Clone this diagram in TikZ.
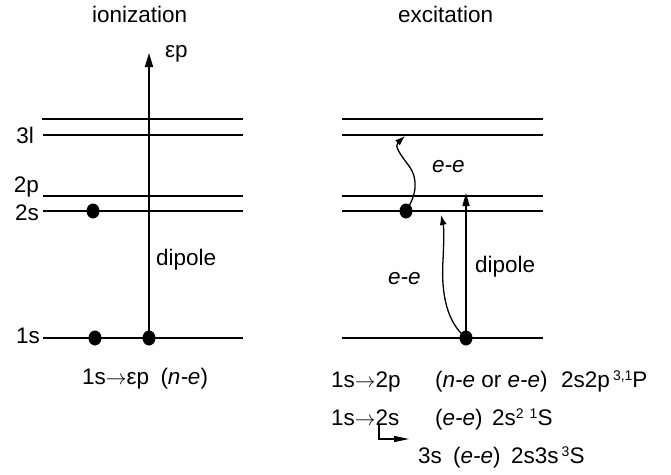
\documentclass[tikz,border=0pt]{standalone}
\usepackage{fontspec}
\setmainfont{Liberation Sans}
\usetikzlibrary{shapes.geometric, arrows.meta, positioning, calc}

\newcommand{\mult}[1]{\raisebox{7pt}{\fontsize{14}{16}\selectfont #1}}

\begin{document}
\begin{tikzpicture}[
    x=1pt, y=-1pt,
    orbit/.style={
        draw,
        line width=1.4pt
    },
    toporbit/.style={
        draw,
        line width=2pt
    },
    electron/.style={
        ellipse,
        fill=black,
        inner sep=0pt,
        minimum width=13pt,
        minimum height=15pt
    },
    txt/.style={
        inner sep=0pt,
        font=\fontsize{22.5}{27}\selectfont
    },
    dipole/.style={
        draw,
        line width=1.8pt,
        -{Triangle[length=14pt,width=8pt]}
    },
    ee/.style={
        draw,
        line width=1.3pt,
        -{Latex[length=10pt,width=7pt]}
    },
    elbow/.style={
        draw,
        line width=1.1pt,
        -{Triangle[length=15pt,width=6pt]}
    }
]
    \useasboundingbox (0,0) rectangle (671,474);

    % --- Titles ---
    \node [txt, anchor=base west] (ion) at (92,22) {ionization};
    \node [txt, anchor=base west] (exc) at (398,22) {excitation};

    % --- Ionization levels ---
    \draw [toporbit] (42,119) -- (243,119);
    \draw [orbit] (43,135) -- (243,135);
    \draw [orbit] (43,196) -- (243,196);
    \draw [orbit] (43,211) -- (243,211);
    \draw [orbit] (43,338) -- (243,338);

    \node [txt, anchor=base east] (l3l) at (34,143) {3l};
    \node [txt, anchor=base east] (l2p) at (39,192) {2p};
    \node [txt, anchor=base east] (l2s) at (39,220) {2s};
    \node [txt, anchor=base east] (l1s) at (40,343) {1s};

    % --- Excitation levels ---
    \draw [toporbit] (342,119) -- (543,119);
    \draw [orbit] (342,135) -- (543,135);
    \draw [orbit] (342,196) -- (543,196);
    \draw [orbit] (342,211) -- (543,211);
    \draw [toporbit] (406,211) -- (543,211);
    \draw [orbit] (342,338) -- (543,338);

    % --- Electrons ---
    \node [electron] (ion2s) at (93,211) {};
    \node [electron] (ion1sa) at (95,338) {};
    \node [electron] (ion1sb) at (149,338) {};
    \node [electron] (exc2s) at (406,211) {};
    \node [electron] (exc1s) at (466,338) {};

    % --- Ionization transition ---
    \coordinate (cont) at (149,53);
    \draw [dipole] (ion1sb.center) -- (cont);
    \node [txt, anchor=base west] (eps) at (165,57) {εp};
    \node [txt, anchor=base west] (dipL) at (156,265) {dipole};

    % --- Excitation transitions ---
    \coordinate (top2p) at (466,193);
    \coordinate (top3l) at (405,136);
    \coordinate (top2s) at (441,215);
    \draw [dipole, line width=1.5pt, -{Triangle[length=13pt,width=7pt]}] (exc1s.center) -- (top2p);
    \draw [ee] (exc2s.center) .. controls (416,196) and (419,180) .. (409,166)
        .. controls (400,154) and (394,146) .. (top3l);
    \draw [ee] (exc1s.center) .. controls (447,322) and (441,295) .. (443,260)
        .. controls (444,240) and (444,228) .. (top2s);
    \node [txt, anchor=base west] (eeup) at (432,172) {\textit{e-e}};
    \node [txt, anchor=base west] (eelow) at (388,284) {\textit{e-e}};
    \node [txt, anchor=base west] (dipR) at (475,272) {dipole};

    % --- Captions ---
    \node [txt, anchor=base west] (capion) at (82,384) {1s$\rightarrow$εp\hspace{0.5em}(\textit{n-e})};

    \node [txt, anchor=base west] (c2p) at (331,387) {1s$\rightarrow$2p};
    \node [txt, anchor=base west] (c2pmech) at (435,387) {(\textit{n-e} or \textit{e-e})};
    \node [txt, anchor=base west] (c2pterm) at (561,387) {2s2p\hspace{3pt}\mult{3,1}P};

    \node [txt, anchor=base west] (c2s) at (331,425) {1s$\rightarrow$2s};
    \node [txt, anchor=base west] (c2smech) at (435,425) {(\textit{e-e})};
    \node [txt, anchor=base west] (c2sterm) at (492,425) {2s\mult{2}\hspace{6pt}\mult{1}S};

    \node [txt, anchor=base west] (c3s) at (418,463) {3s};
    \node [txt, anchor=base west] (c3smech) at (453,463) {(\textit{e-e})};
    \node [txt, anchor=base west] (c3sterm) at (511,463) {2s3s\hspace{3pt}\mult{3}S};

    % 2s -> 3s branch
    \coordinate (brstart) at (379,425);
    \coordinate (brend) at (409,439);
    \draw [elbow] (brstart) |- (brend);

\end{tikzpicture}
\end{document}
